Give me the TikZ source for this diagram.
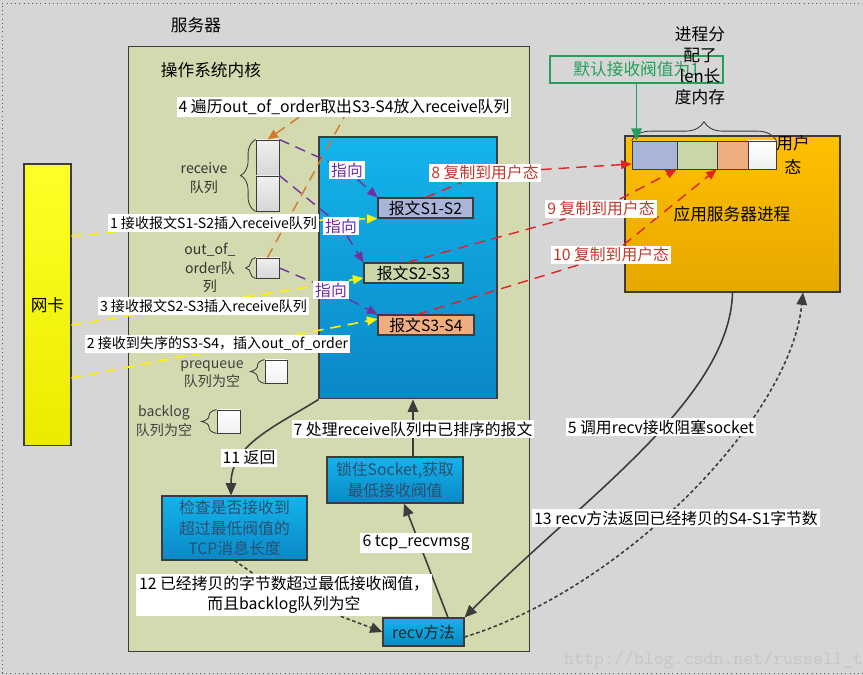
\documentclass[tikz,border=0pt]{standalone}
\usepackage{fontspec}
\setmainfont{Noto Sans CJK SC}
\usetikzlibrary{arrows.meta, positioning, calc, decorations.pathreplacing}
\definecolor{PageGray}{HTML}{D6D6D6}
\definecolor{KernelOlive}{HTML}{D4DAB0}
\definecolor{SockBlueTop}{HTML}{14B4EC}
\definecolor{SockBlueBot}{HTML}{0A88C6}
\definecolor{PktBlue}{HTML}{A8B4D8}
\definecolor{PktGreen}{HTML}{C8D6A8}
\definecolor{PktOrange}{HTML}{F0AE80}
\definecolor{AppGoldTop}{HTML}{FFC000}
\definecolor{AppGoldBot}{HTML}{E6A700}
\definecolor{PointPurple}{HTML}{7030A0}
\definecolor{CopyRed}{HTML}{E02424}
\definecolor{CopyRedText}{HTML}{C0392B}
\definecolor{TakeOrange}{HTML}{D2782A}
\definecolor{ThreshGreen}{HTML}{22A05A}
\definecolor{FlowGray}{HTML}{3C3C3C}
\definecolor{BoxText}{HTML}{2C4F70}
\newcommand{\bigfnt}{\fontsize{9.5}{12}\selectfont}
\newcommand{\midfnt}{\fontsize{9}{11.6}\selectfont}
\newcommand{\smfnt}{\fontsize{8}{10.5}\selectfont}
\pgfdeclarelayer{fg}
\pgfsetlayers{main,fg}
\tikzset{
  qcell/.style={draw=FlowGray, line width=0.5pt, inner sep=0pt, top color=gray!12, bottom color=gray!32},
  ecell/.style={draw=FlowGray, line width=0.5pt, inner sep=0pt, top color=white, bottom color=gray!12},
  pkt/.style={draw=FlowGray, line width=0.6pt, inner sep=0pt, minimum height=0.4cm, font=\midfnt},
  bluebox/.style={draw=FlowGray, line width=0.6pt, inner sep=0pt, top color=SockBlueTop, bottom color=SockBlueBot, text=BoxText, align=center, font=\midfnt},
  lbl/.style={fill=white, inner sep=1.2pt, font=\midfnt},
  qbrace/.style={decorate, decoration={brace, amplitude=#1}, draw=FlowGray, line width=0.5pt},
  ptr/.style={PointPurple, dash pattern=on 6pt off 4pt, line width=0.8pt, -{Triangle[length=6pt, width=5pt]}},
  feed/.style={yellow, dash pattern=on 6pt off 4pt, line width=0.9pt, -{Triangle[length=6pt, width=5pt]}},
  copyln/.style={CopyRed, dash pattern=on 6pt off 4pt, line width=0.8pt, -{Triangle[length=6pt, width=5pt]}},
  flow/.style={FlowGray, line width=0.9pt, -{Triangle[length=7pt, width=6pt]}},
  flowdot/.style={FlowGray, dash pattern=on 2pt off 1.5pt, line width=0.9pt, -{Triangle[length=7pt, width=6pt]}}
}

\begin{document}
\begin{tikzpicture}[x=0.02cm, y=-0.02cm]
  % Page
  \useasboundingbox (0,0) rectangle (863,675);
  \fill[PageGray] (0,0) rectangle (863,675);
  \draw[gray!70!black, dotted] (2,673) -- (2,3) -- (870,3);
  \draw[gray!70!black, dotted] (2,673) -- (870,673);
  \node[font=\bigfnt] (srvlbl) at (196,25) {服务器};

  % Kernel and socket area
  \node[draw=FlowGray, line width=0.6pt, fill=KernelOlive, inner sep=0pt, minimum width=8.04cm, minimum height=12.12cm] (kernel) at (329,349) {};
  \node[font=\bigfnt] (kernlbl) at (211,70) {操作系统内核};
  \node[draw=FlowGray, line width=0.6pt, inner sep=0pt, top color=SockBlueTop, bottom color=SockBlueBot, minimum width=3.56cm, minimum height=5.24cm] (sock) at (408,268) {};

  % Packets
  \node[pkt, fill=PktBlue, minimum width=1.9cm] (pkt12) at (425.5,208) {报文S1-S2};
  \node[pkt, fill=PktGreen, minimum width=1.98cm] (pkt23) at (413.5,273) {报文S2-S3};
  \node[pkt, fill=PktOrange, minimum width=1.92cm] (pkt34) at (426,325) {报文S3-S4};

  % Queues
  \node[qcell, minimum width=0.46cm, minimum height=0.72cm] (rq1) at (267.5,158) {};
  \node[qcell, minimum width=0.46cm, minimum height=0.7cm] (rq2) at (267.5,193.5) {};
  \draw[qbrace=0.3cm] (rq2.south west) -- (rq1.north west);
  \node[font=\smfnt, align=center, text=black!80] (rqlbl) at (204,178) {receive\\队列};
  \node[qcell, minimum width=0.46cm, minimum height=0.4cm] (ooo) at (267.5,268) {};
  \draw[qbrace=0.2cm] (ooo.south west) -- (ooo.north west);
  \node[font=\smfnt, align=center, text=black!80] (ooolbl) at (210,268) {out\_of\_\\order队\\列};
  \node[ecell, minimum width=0.44cm, minimum height=0.46cm] (preq) at (276,371.5) {};
  \draw[qbrace=0.28cm] (preq.south west) -- (preq.north west);
  \node[font=\smfnt, align=center, text=black!75] (preqlbl) at (212,374) {prequeue\\队列为空};
  \node[ecell, minimum width=0.46cm, minimum height=0.46cm] (blog) at (228.5,421.5) {};
  \draw[qbrace=0.3cm] (blog.south west) -- (blog.north west);
  \node[font=\smfnt, align=center, text=black!75] (bloglbl) at (164,421) {backlog\\队列为空};

  % Network card
  \node[draw=FlowGray, line width=0.6pt, inner sep=0pt, top color=yellow!85!white, bottom color=yellow!92!black, minimum width=0.94cm, minimum height=5.64cm, font=\bigfnt] (nic) at (47.5,305) {网卡};

  % Application process
  \node[draw=FlowGray, line width=0.6pt, inner sep=0pt, top color=AppGoldTop, bottom color=AppGoldBot, minimum width=4.3cm, minimum height=3.12cm] (app) at (732.5,214) {};
  \node[font=\bigfnt] (applbl) at (732,214) {应用服务器进程};
  \node[draw=FlowGray, fill=PktBlue, inner sep=0pt, minimum width=0.9cm, minimum height=0.56cm] (buf1) at (654.5,155) {};
  \node[draw=FlowGray, fill=PktGreen, inner sep=0pt, minimum width=0.8cm, minimum height=0.56cm] (buf2) at (697,155) {};
  \node[draw=FlowGray, fill=PktOrange, inner sep=0pt, minimum width=0.62cm, minimum height=0.56cm] (buf3) at (732.5,155) {};
  \node[draw=FlowGray, top color=white, bottom color=gray!12, inner sep=0pt, minimum width=0.56cm, minimum height=0.56cm] (buf4) at (762,155) {};
  \node[font=\bigfnt, align=center] (userlbl) at (793,155) {用户\\[2pt]态};
  \draw[qbrace=0.38cm] (buf1.north west) -- (buf4.north east);
  \node[draw=ThreshGreen, line width=0.7pt, inner sep=0pt, minimum width=3.46cm, minimum height=0.54cm, text=ThreshGreen, font=\bigfnt] (deflt) at (636.5,69.5) {默认接收阀值为1};
  \node[font=\bigfnt, align=center] (alloclbl) at (700,66) {进程分\\配了\\len长\\度内存};

  % Call path boxes
  \node[bluebox, minimum width=2.72cm, minimum height=0.92cm] (lock) at (395,480) {锁住Socket,获取\\最低接收阀值};
  \node[bluebox, minimum width=2.9cm, minimum height=1.28cm] (chk) at (234.5,528) {检查是否接收到\\超过最低阀值的\\TCP消息长度};
  \node[bluebox, text=black!85, minimum width=1.62cm, minimum height=0.56cm] (recv) at (423.5,632) {recv方法};

  % Labels
  \begin{pgfonlayer}{fg}
    \node[lbl] (l4) at (344,107) {4 遍历out\_of\_order取出S3-S4放入receive队列};
    \node[lbl, font=\smfnt] (l1) at (213.5,223) {1 接收报文S1-S2插入receive队列};
    \node[lbl, font=\smfnt] (l3) at (203.5,306) {3 接收报文S2-S3插入receive队列};
    \node[lbl, font=\smfnt] (l2) at (217.5,344) {2 接收到失序的S3-S4，插入out\_of\_order};
    \node[lbl, text=PointPurple] (ptr1) at (347,170) {指向};
    \node[lbl, text=PointPurple] (ptr2) at (341,226) {指向};
    \node[lbl, text=PointPurple] (ptr3) at (331,290) {指向};
    \node[lbl, text=CopyRedText] (l8) at (485,173) {8 复制到用户态};
    \node[lbl, text=CopyRedText] (l9) at (601,209) {9 复制到用户态};
    \node[lbl, text=CopyRedText] (l10) at (611,255) {10 复制到用户态};
    \node[lbl] (l7) at (413,429) {7 处理receive队列中已排序的报文};
    \node[lbl] (l11) at (249,458) {11 返回};
    \node[lbl] (l6) at (416,543) {6 tcp\_recvmsg};
    \node[lbl, align=center, inner xsep=2pt] (l12) at (284,595) {12 已经拷贝的字节数超过最低接收阀值，\\而且backlog队列为空};
    \node[lbl] (l5) at (661,427) {5 调用recv接收阻塞socket};
    \node[lbl] (l13) at (676,518) {13 recv方法返回已经拷贝的S4-S1字节数};
  \end{pgfonlayer}

  % Reordering (orange)
  \draw[TakeOrange, dash pattern=on 6pt off 4pt, line width=0.8pt] (ooo.north) -- (l4.south);
  \draw[TakeOrange, dash pattern=on 6pt off 4pt, line width=0.8pt, -{Triangle[length=6pt, width=5pt]}] ([xshift=-0.9cm]l4.south) -- (rq1.north);

  % Queue pointers (purple)
  \draw[ptr] (rq1.north east) -- (ptr1) -- (pkt12.north west);
  \draw[ptr] (rq2.north east) -- (ptr2) -- (pkt23.north west);
  \draw[ptr] (ooo.east) -- (ptr3) -- (pkt34.north west);

  % Incoming packets (yellow)
  \draw[feed] ([yshift=1.38cm]nic.east) -- (l1) -- (pkt12.south west);
  \draw[feed] ([yshift=-0.4cm]nic.east) -- ([yshift=-0.1cm]pkt23.west);
  \draw[feed] ([yshift=-1.46cm]nic.east) -- ([yshift=0.12cm]pkt34.west);

  % Copy to user space (red)
  \draw[copyln] (pkt12.north) -- (l8) -- ([yshift=-0.18cm]buf1.west);
  \draw[copyln] ([xshift=-0.13cm]pkt23.north) -- (l9) -- (buf2.south west);
  \draw[copyln] ([xshift=-0.18cm]pkt34.north) -- (l10) -- (buf3.south west);

  % Threshold
  \draw[ThreshGreen, line width=0.9pt, -{Triangle[length=7pt, width=6pt]}] (deflt.south) -- (deflt.south |- buf1.north);

  % recv call path
  \coordinate (l7src) at ([xshift=0.36cm]lock.north);
  \draw[flow] (l7src) -- (l7src |- sock.south);
  \draw[flow] ([xshift=0.49cm]recv.north) -- ([xshift=0.18cm]lock.south);
  \draw[flow] (sock.south west) to[out=212, in=90] ([xshift=-0.07cm]chk.north);
  \draw[flowdot] (chk.south) -- (l12) -- (recv.west);
  \draw[flow] (app.south) .. controls (730,400) and (580,500) .. (recv.north east);
  \draw[flowdot] ([yshift=-0.1cm]recv.east) .. controls (620,590) and (790,420) .. ([xshift=1.41cm]app.south);

  % Watermark
  \node[anchor=west, font=\ttfamily\fontsize{11}{13}\selectfont, text=gray!45] (wmark) at (558,660) {http://blog.csdn.net/russell\_t};
\end{tikzpicture}
\end{document}
